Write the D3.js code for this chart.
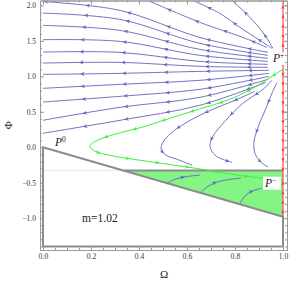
<!DOCTYPE html>
<html>
<head>
<meta charset="utf-8">
<script src="https://cdn.jsdelivr.net/npm/d3@7"></script>
<style>
body { margin: 0; background: #fff; }
text { font-family: "Liberation Serif", "DejaVu Serif", serif; }
</style>
</head>
<body>
<svg id="vis" width="291" height="282"></svg>
<script>
// fixed points and label
var pPlus = [1, 1.10];
var pMinus = [1, -0.465];
var pZero = [0, 0];
var massLabel = "m=1.02";

// tick values
var xMajor = [0.0, 0.2, 0.4, 0.6, 0.8, 1.0];
var yMajor = [-1.0, -0.5, 0.0, 0.5, 1.0, 1.5, 2.0];

// physical region (gray outline) and green wedge
var region = [[0, 0], [1, -0.98], [1, -1.4], [0, -1.4]];
var wedge = [[0.337, -0.33], [1, -0.33], [1, -0.98]];
var redTop = 2.07, redBottom = -0.98;

// trajectories leaving P+ towards the left edge (listed along the flow)
var fanLines = [
  [[0.9375, 1.338], [0.654, 1.549], [0.321, 1.930], [0, 2.056]],
  [[0.9375, 1.296], [0.654, 1.465], [0.321, 1.803], [0, 1.892]],
  [[0.9375, 1.254], [0.654, 1.380], [0.321, 1.648], [0, 1.718]],
  [[0.9375, 1.211], [0.654, 1.296], [0.321, 1.493], [0, 1.517]],
  [[0.9375, 1.169], [0.654, 1.211], [0.321, 1.338], [0, 1.342]],
  [[0.9375, 1.127], [0.654, 1.141], [0.321, 1.197], [0, 1.187]],
  [[0.942, 1.085], [0.654, 1.070], [0.321, 1.042], [0, 1.028]],
  [[0.942, 1.042], [0.654, 0.944], [0.321, 0.887], [0, 0.831]],
  [[0.942, 1.000], [0.654, 0.817], [0.321, 0.718], [0, 0.638]],
  [[0.9375, 0.958], [0.654, 0.704], [0.321, 0.563], [0, 0.380]],
  [[0.929, 0.915], [0.654, 0.592], [0.321, 0.380], [0, 0.197]]
];

// trajectories leaving P+ through the top edge
var topLines = [
  [[0.933, 1.408], [0.833, 1.549], [0.654, 1.761], [0.4375, 2.07]],
  [[0.954, 1.394], [0.904, 1.507], [0.821, 1.690], [0.7375, 1.887], [0.625, 2.07]],
  [[0.958, 1.394], [0.925, 1.577], [0.8625, 1.831], [0.7875, 2.07]]
];

// hook-shaped trajectories from P+ bending back towards P-
var hookLines = [
  [[0.883, 0.789], [0.800, 0.662], [0.717, 0.549], [0.654, 0.451], [0.592, 0.338], [0.533, 0.197],
   [0.500, 0.070], [0.492, -0.028], [0.5125, -0.113], [0.558, -0.169], [0.621, -0.254]],
  [[0.954, 0.944], [0.917, 0.817], [0.833, 0.620], [0.758, 0.366], [0.708, 0.155], [0.696, 0.014],
   [0.717, -0.113], [0.758, -0.183], [0.7875, -0.211]],
  [[0.975, 0.915], [0.954, 0.761], [0.929, 0.549], [0.896, 0.282], [0.879, 0.070], [0.883, -0.085],
   [0.904, -0.197], [0.9375, -0.282]]
];

// trajectories inside the green wedge
var wedgeLines = [
  [[0.517, -0.507], [0.550, -0.451], [0.596, -0.415], [0.654, -0.394]],
  [[0.658, -0.634], [0.683, -0.563], [0.717, -0.500], [0.771, -0.458], [0.825, -0.437]],
  [[0.821, -0.796], [0.8375, -0.704], [0.867, -0.627], [0.9125, -0.577]]
];

// separatrix from P+ to P-
var separatrix = [
  [1, 1.099], [0.954, 1.000], [0.875, 0.831], [0.767, 0.662], [0.654, 0.542], [0.529, 0.408],
  [0.4125, 0.282], [0.321, 0.204], [0.2375, 0.113], [0.200, 0.042], [0.196, 0.000], [0.217, -0.056],
  [0.2875, -0.120], [0.446, -0.204], [0.642, -0.300], [0.792, -0.385], [0.925, -0.441], [1, -0.465]
];

var frame = {left: 40, right: 287, top: 0.5, bottom: 250};
var x = d3.scaleLinear().domain([-0.0125, 1.0167]).range([frame.left, frame.right]);
var y = d3.scaleLinear().domain([-1.45, 2.07]).range([frame.bottom, frame.top]);

var svg = d3.select("#vis");
var blue = "#6464bb", green = "#3fee3f", red = "#ff3030", gray = "#8c8c8c";

svg.append("defs").append("clipPath").attr("id", "clip")
  .append("rect")
  .attr("x", frame.left).attr("y", frame.top)
  .attr("width", frame.right - frame.left).attr("height", frame.bottom - frame.top);

var plot = svg.append("g").attr("clip-path", "url(#clip)");

var poly = d3.line().x(function(d) { return x(d[0]); }).y(function(d) { return y(d[1]); });
var curve = d3.line().x(function(d) { return x(d[0]); }).y(function(d) { return y(d[1]); })
  .curve(d3.curveCatmullRom.alpha(0.5));

// green wedge
plot.append("path").attr("d", poly(wedge) + "Z").attr("fill", "#84f584").attr("stroke", "none");

// faint mesh line continuing the wedge top
plot.append("path").attr("d", poly([[0, -0.33], [0.337, -0.33]]))
  .attr("stroke", "#dedede").attr("stroke-width", 0.7).attr("fill", "none");

// region outline
plot.append("path").attr("d", poly(region) + "Z")
  .attr("fill", "none").attr("stroke", gray).attr("stroke-width", 2);
plot.append("path").attr("d", poly([[0.337, -0.33], [1, -0.33]]))
  .attr("fill", "none").attr("stroke", gray).attr("stroke-width", 2);

function arrows(node, spacing, offset, color, size) {
  var len = node.getTotalLength();
  for (var s = offset; s < len - 1; s += spacing) {
    var p0 = node.getPointAtLength(Math.max(s - 1, 0));
    var p1 = node.getPointAtLength(s + 1);
    var ang = Math.atan2(p1.y - p0.y, p1.x - p0.x) * 180 / Math.PI;
    plot.append("path")
      .attr("d", "M0,0L" + (-size) + "," + (-size * 0.45) + "L" + (-size * 0.7) + ",0L" + (-size) + "," + (size * 0.45) + "Z")
      .attr("transform", "translate(" + p1.x + "," + p1.y + ")rotate(" + ang + ")")
      .attr("fill", color);
  }
}

function trajectories(list, color, width, spacing, offset) {
  list.forEach(function(pts) {
    var p = plot.append("path").attr("d", curve(pts))
      .attr("fill", "none").attr("stroke", color).attr("stroke-width", width);
    arrows(p.node(), spacing, offset, color, 4.5);
  });
}

trajectories(fanLines, blue, 0.9, 42, 20);
trajectories(topLines, blue, 0.9, 30, 16);
trajectories(hookLines, blue, 0.9, 32, 22);
trajectories(wedgeLines, blue, 0.9, 30, 18);
trajectories([separatrix], green, 1, 30, 12);

// invariant line Omega = 1
plot.append("path").attr("d", poly([[1, redTop], [1, redBottom]]))
  .attr("stroke", red).attr("stroke-width", 1).attr("fill", "none");
[[[1, pPlus[1]], [1, redTop]], [[1, pPlus[1]], [1, pMinus[1]]], [[1, redBottom], [1, pMinus[1]]]]
  .forEach(function(seg) {
    var p = plot.append("path").attr("d", poly(seg)).attr("fill", "none").attr("stroke", "none");
    arrows(p.node(), 9.5, 6, red, 4);
  });

// point labels
function pointLabel(pt, sup, dx, dy, boxed) {
  var px = x(pt[0]) + dx, py = y(pt[1]) + dy;
  if (boxed) {
    svg.append("rect").attr("x", px - 2).attr("y", py - 10).attr("width", 18).attr("height", 13).attr("fill", "#fff");
  }
  var t = svg.append("text").attr("x", px).attr("y", py)
    .attr("font-size", 11.5).attr("fill", "#222");
  t.append("tspan").attr("font-style", "italic").text("P");
  t.append("tspan").attr("dy", -4).attr("font-size", 7.5).text(sup);
}
pointLabel(pPlus, "+", -10, -7, true);
pointLabel(pMinus, "\u2212", -18, 6.5, true);
pointLabel(pZero, "0", 12, -1, false);

svg.append("text").attr("x", x(0.163)).attr("y", y(-1.06))
  .attr("font-size", 11.5).attr("fill", "#222").text(massLabel);

// frame axes
function frameAxis(axis, tx, ty) {
  var g = svg.append("g").attr("transform", "translate(" + tx + "," + ty + ")").call(axis);
  g.attr("font-family", null).attr("font-size", null);
  g.select(".domain").attr("stroke", "#9a9a9a");
  g.selectAll(".tick line").attr("stroke", "#9a9a9a");
  g.selectAll("text").attr("font-size", 7.5).attr("fill", "#333");
  return g;
}
var fmt = d3.format(".1f");
var xMinor = d3.range(0, 1.0001, 0.05);
var yMinor = d3.range(-1.4, 2.0501, 0.1);

frameAxis(d3.axisBottom(x).tickValues(xMajor).tickSize(-4).tickSizeOuter(0).tickPadding(4).tickFormat(fmt), 0, frame.bottom);
frameAxis(d3.axisBottom(x).tickValues(xMinor).tickSize(-2).tickSizeOuter(0).tickFormat(""), 0, frame.bottom);
frameAxis(d3.axisTop(x).tickValues(xMajor).tickSize(-4).tickSizeOuter(0).tickFormat(""), 0, frame.top);
frameAxis(d3.axisTop(x).tickValues(xMinor).tickSize(-2).tickSizeOuter(0).tickFormat(""), 0, frame.top);
frameAxis(d3.axisLeft(y).tickValues(yMajor).tickSize(-4).tickSizeOuter(0).tickPadding(4).tickFormat(fmt), frame.left, 0);
frameAxis(d3.axisLeft(y).tickValues(yMinor).tickSize(-2).tickSizeOuter(0).tickFormat(""), frame.left, 0);
frameAxis(d3.axisRight(y).tickValues(yMajor).tickSize(-4).tickSizeOuter(0).tickFormat(""), frame.right, 0);
frameAxis(d3.axisRight(y).tickValues(yMinor).tickSize(-2).tickSizeOuter(0).tickFormat(""), frame.right, 0);

// axis titles
svg.append("text").attr("x", (frame.left + frame.right) / 2 + 0.5).attr("y", 278)
  .attr("text-anchor", "middle").attr("font-size", 11).attr("fill", "#222").text("\u03a9");
svg.append("text").attr("transform", "translate(8," + ((frame.top + frame.bottom) / 2) + ")rotate(-90)")
  .attr("text-anchor", "middle").attr("dominant-baseline", "central")
  .attr("font-size", 11).attr("fill", "#222").text("\u03a6");
</script>
</body>
</html>
